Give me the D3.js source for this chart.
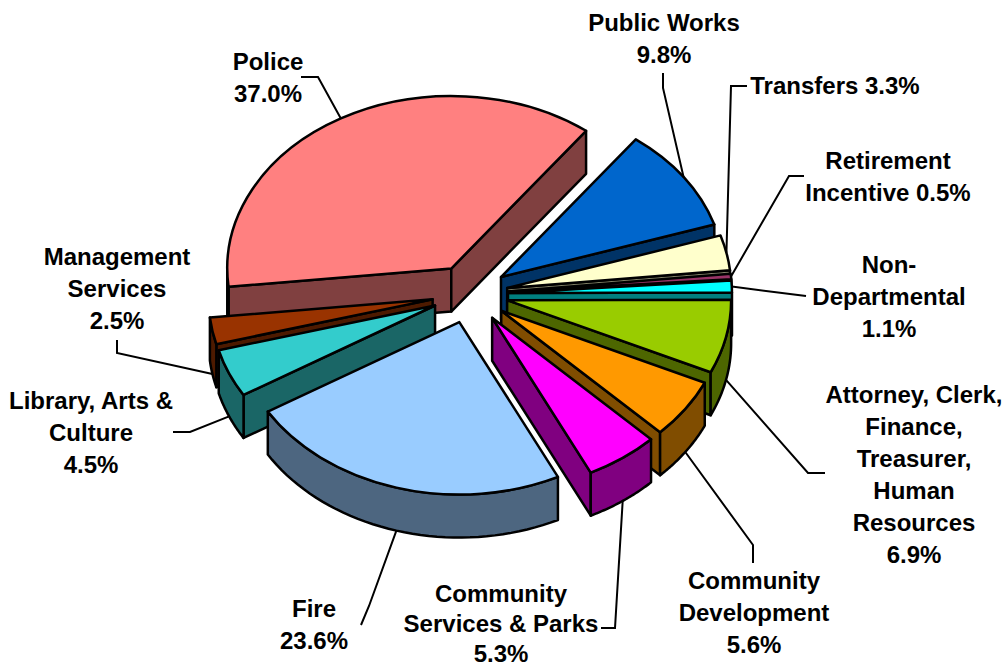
<!DOCTYPE html>
<html>
<head>
<meta charset="utf-8">
<script src="https://cdn.jsdelivr.net/npm/d3@7"></script>
<style>
  html, body { margin: 0; padding: 0; background: #fff; }
  svg { display: block; }
  text { font-family: "Liberation Sans", Arial, sans-serif; font-weight: bold; font-size: 24px; fill: #000; text-anchor: middle; }
</style>
</head>
<body>
<div class="chart"></div>
<script>
// data, clockwise from the public works slice
var categories = ["Public Works", "Transfers", "Retirement Incentive", "Non-Departmental",
    "Attorney, Clerk, Finance, Treasurer, Human Resources", "Community Development",
    "Community Services & Parks", "Fire", "Library, Arts & Culture", "Management Services", "Police"];
var values = [9.8, 3.3, 0.5, 1.1, 6.9, 5.6, 5.3, 23.6, 4.5, 2.5, 37.0];
var topColors = ["#0066CC", "#FFFFCC", "#993366", "#00FFFF", "#99CC00", "#FF9900",
    "#FF00FF", "#99CCFF", "#33CCCC", "#993300", "#FF8080"];
var sideColors = ["#003366", "#808066", "#4D1A33", "#008080", "#4D6600", "#804D00",
    "#800080", "#4D6680", "#1A6666", "#4D1A00", "#804040"];

// label text and where it goes
var labelLines = [
    ["Public Works", "9.8%"],
    ["Transfers 3.3%"],
    ["Retirement", "Incentive 0.5%"],
    ["Non-", "Departmental", "1.1%"],
    ["Attorney, Clerk,", "Finance,", "Treasurer,", "Human", "Resources", "6.9%"],
    ["Community", "Development", "5.6%"],
    ["Community", "Services & Parks", "5.3%"],
    ["Fire", "23.6%"],
    ["Library, Arts &", "Culture", "4.5%"],
    ["Management", "Services", "2.5%"],
    ["Police", "37.0%"]
];
var labelPos = [[664, 31], [835, 94], [888, 169], [889, 273], [914, 403], [754, 589],
    [501, 602], [314, 617], [91, 409], [117, 265], [268, 70]];
var labelGap = [32, 32, 32, 32, 32, 32, 30, 32, 32, 32, 32];
var leaderElbows = [
    [[663, 73], [663, 88]],
    [[747, 86], [731, 86]],
    [[804, 176], [789, 176]],
    [[806, 296]],
    [[825, 473], [808, 473]],
    [[753, 563], [753, 545]],
    [[601, 628], [615, 628]],
    [[361, 625], [369, 606]],
    [[173, 432], [190, 432]],
    [[117, 340], [117, 353]],
    [[301, 77], [318, 77]]
];

var width = 1004, height = 667;
var cx = 470, cy = 294;      // pie centre before the slices are pulled out
var radius = 224;
var tilt = 0.77;             // y squash of the 3d view
var depth = 43;
var explode = 38;
var startAngle = 37 * Math.PI / 180;

var svg = d3.select(".chart").append("svg")
    .attr("width", width)
    .attr("height", height);

var pie = d3.pie()
    .sort(null)
    .value(function (d) { return d; })
    .startAngle(startAngle)
    .endAngle(startAngle + 2 * Math.PI);

var arc = d3.arc().innerRadius(0).outerRadius(radius);
var line = d3.line();

// flat pie coords to screen, angle clockwise from 12 o'clock
function onRim(apex, a, z) {
    return [apex[0] + radius * Math.sin(a), apex[1] - radius * tilt * Math.cos(a) + (z || 0)];
}

var slices = pie(values).map(function (d, i) {
    var mid = (d.startAngle + d.endAngle) / 2;
    d.index = i;
    d.mid = mid;
    d.apex = [cx + explode * Math.sin(mid), cy - explode * tilt * Math.cos(mid)];
    return d;
});

// walls of a slice that face the viewer
function radialWall(d, a) {
    return line([d.apex, onRim(d.apex, a), onRim(d.apex, a, depth), [d.apex[0], d.apex[1] + depth]]) + "Z";
}

// the outer wall only shows for the part of the rim at the front (90 to 270 deg)
function rimWall(d) {
    var t = 2 * Math.PI;
    var parts = [];
    [0, t].forEach(function (shift) {
        var a0 = Math.max(d.startAngle, Math.PI / 2 + shift);
        var a1 = Math.min(d.endAngle, 3 * Math.PI / 2 + shift);
        if (a1 > a0) {
            var steps = d3.range(0, 41).map(function (k) { return a0 + (a1 - a0) * k / 40; });
            var top = steps.map(function (a) { return onRim(d.apex, a); });
            var bottom = steps.slice().reverse().map(function (a) { return onRim(d.apex, a, depth); });
            parts.push(line(top.concat(bottom)) + "Z");
        }
    });
    return parts.join("");
}

// back slices first
var ordered = slices.slice().sort(function (a, b) { return Math.cos(b.mid) - Math.cos(a.mid); });

var groups = svg.selectAll(".slice")
    .data(ordered)
    .enter().append("g")
    .attr("class", "slice");

groups.each(function (d) {
    var g = d3.select(this);
    var side = sideColors[d.index];
    if (Math.sin(d.startAngle) < 0) {
        g.append("path").attr("d", radialWall(d, d.startAngle));
    }
    if (Math.sin(d.endAngle) > 0) {
        g.append("path").attr("d", radialWall(d, d.endAngle));
    }
    var rim = rimWall(d);
    if (rim) {
        g.append("path").attr("d", rim);
    }
    g.selectAll("path")
        .attr("fill", side)
        .attr("stroke", "#000")
        .attr("stroke-width", 2.5)
        .attr("stroke-linejoin", "round");

    g.append("path")
        .attr("d", arc(d))
        .attr("transform", "translate(" + d.apex[0] + "," + d.apex[1] + ") scale(1," + tilt + ")")
        .attr("fill", topColors[d.index])
        .attr("stroke", "#000")
        .attr("stroke-width", 2.5)
        .attr("vector-effect", "non-scaling-stroke")
        .attr("stroke-linejoin", "round");
});

// leader lines, from the label elbow to the rim at the middle of the slice
svg.selectAll(".leader")
    .data(slices)
    .enter().append("path")
    .attr("class", "leader")
    .attr("fill", "none")
    .attr("stroke", "#000")
    .attr("stroke-width", 2)
    .attr("d", function (d) {
        var front = Math.cos(d.mid) < 0 ? depth : 0;
        return line(leaderElbows[d.index].concat([onRim(d.apex, d.mid, front)]));
    });

var labels = svg.selectAll(".label")
    .data(labelLines)
    .enter().append("text")
    .attr("class", "label")
    .attr("x", function (d, i) { return labelPos[i][0]; })
    .attr("y", function (d, i) { return labelPos[i][1]; });

labels.selectAll("tspan")
    .data(function (d, i) { return d.map(function (s) { return { s: s, x: labelPos[i][0], gap: labelGap[i] }; }); })
    .enter().append("tspan")
    .attr("x", function (d) { return d.x; })
    .attr("dy", function (d, i) { return i ? d.gap : 0; })
    .text(function (d) { return d.s; });
</script>
</body>
</html>
